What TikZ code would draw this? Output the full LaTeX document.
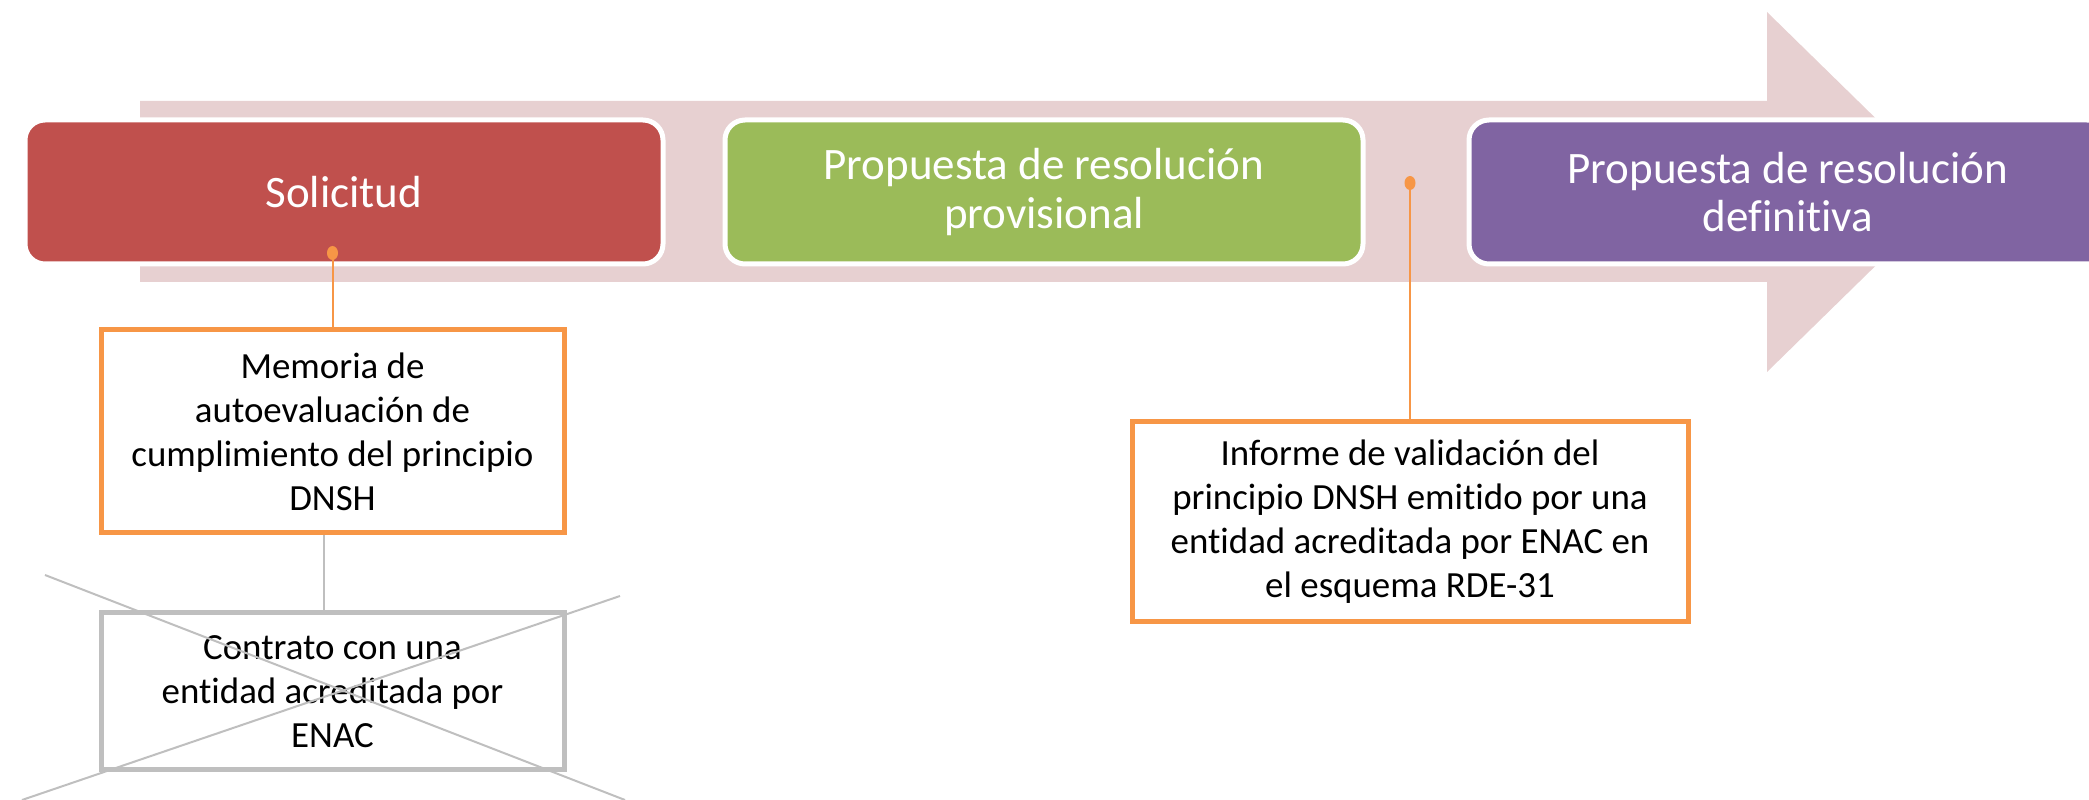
\documentclass[tikz,border=0pt]{standalone}
\usepackage{fontspec}
\setmainfont{Carlito}[Ligatures=NoCommon, Contextuals=NoAlternate]
\usepackage{tikz}
\usetikzlibrary{positioning}

\definecolor{arrowbg}{HTML}{E7D0D1}
\definecolor{solred}{HTML}{C0504D}
\definecolor{provgreen}{HTML}{9BBB59}
\definecolor{defpurple}{HTML}{8064A2}
\definecolor{docorange}{HTML}{F79646}
\definecolor{docgray}{HTML}{BFBFBF}

\begin{document}
\begin{tikzpicture}[
  stagebox/.style={rectangle, rounded corners=0.2cm, draw=white, line width=0.05cm,
    minimum width=6.38cm, minimum height=1.44cm, inner sep=0pt, text=white,
    align=center, font=\fontsize{12.8}{13.9}\selectfont},
  docbox/.style={rectangle, draw=docorange, fill=white, line width=0.05cm,
    minimum width=4.63cm, inner sep=0pt, align=center,
    font=\fontsize{10.5}{12.5}\selectfont},
  pin/.style={docorange, line width=0.02cm},
  cross/.style={docgray, line width=0.02cm}]
\useasboundingbox (0,0) rectangle (20.89,-8);
\fill [arrowbg] (1.40,-1.01) -- (17.67,-1.01) -- (17.67,-0.12) -- (19.51,-1.92)
  -- (17.67,-3.72) -- (17.67,-2.82) -- (1.40,-2.82) -- cycle;
\node [stagebox, fill=solred] (solicitud) at (3.44,-1.92) {Solicitud};
\node [stagebox, fill=provgreen] (provisional) at (10.44,-1.92) {Propuesta de resolución\\provisional};
\node [stagebox, fill=defpurple] (definitiva) at (17.88,-1.92) {Propuesta de resolución\\definitiva};
\node [docbox, minimum height=2.03cm] (memoria) at (3.325,-4.315) {Memoria de\\autoevaluación de\\cumplimiento del principio\\DNSH};
\node [docbox, draw=docgray, minimum height=1.57cm] (contrato) at (3.325,-6.915) {Contrato con una\\entidad acreditada por\\ENAC};
\node [docbox, minimum width=5.56cm, minimum height=2.00cm] (informe) at (14.10,-5.22) {Informe de validación del\\principio DNSH emitido por una\\entidad acreditada por ENAC en\\el esquema RDE-31};
\coordinate (dotsol) at (3.325,-2.53);
\coordinate (dotinf) at (14.10,-1.83);
\draw [pin] (dotsol) -- (memoria.north);
\draw [pin] (dotinf) -- (informe.north);
\fill [docorange] (dotsol) ellipse (0.055 and 0.07);
\fill [docorange] (dotinf) ellipse (0.055 and 0.07);
\draw [cross] ([xshift=-0.09cm]memoria.south) -- ([xshift=-0.09cm]contrato.north);
\draw [cross] (0.45,-5.75) -- (6.25,-8.00);
\draw [cross] (6.20,-5.96) -- (0.22,-8.00);
\end{tikzpicture}
\end{document}
